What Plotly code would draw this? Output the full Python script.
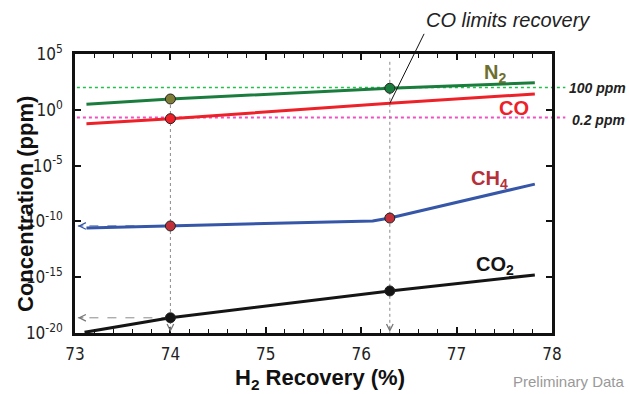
import math
import plotly.graph_objects as go

# ---------------- data ----------------
x_ticks = [73, 74, 75, 76, 77, 78]
y_tick_vals = [1e-20, 1e-15, 1e-10, 1e-5, 1e0, 1e5]
y_tick_text = ["10<sup>-20</sup>", "10<sup>-15</sup>", "10<sup>-10</sup>",
               "10<sup>-5</sup>", "10<sup>0</sup>", "10<sup>5</sup>"]

n2_x = [73.12, 74.0, 76.3, 77.82]
n2_y = [3.1, 9.3, 85, 270]

co_x = [73.12, 74.0, 76.3, 77.82]
co_y = [0.056, 0.16, 3.8, 26]

ch4_x = [73.12, 74.0, 76.12, 76.3, 77.82]
ch4_y = [2.6e-11, 3.9e-11, 1.1e-10, 2.0e-10, 2.2e-7]

co2_x = [73.1, 74.0, 76.3, 77.82]
co2_y = [1.15e-20, 2.3e-19, 5.9e-17, 1.6e-15]

limit_n2 = 100    # ppm
limit_co = 0.2    # ppm
op_points = [74.0, 76.3]   # operating recoveries marked

# ---------------- styling ----------------
C_N2, C_N2_LBL, C_N2_M0 = "#1b7d3d", "#6e6e2e", "#7d7d35"
C_CO = "#ee2028"
C_CH4, C_CH4_LBL, C_CH4_M = "#3656a8", "#b5303a", "#c0303a"
C_CO2 = "#151515"
NARROW = "Liberation Sans Narrow, DejaVu Sans Condensed, Arial Narrow, Liberation Sans, sans-serif"
SANS = "Liberation Sans, Arial, sans-serif"

W, H = 629, 394
L, R, T, B = 75, 552, 54, 333


def px(xp):
    return (xp - L) / (R - L)


def py(yp):
    return (B - yp) / (B - T)


def val_at(xs, ys, xv):
    return ys[xs.index(xv)]


fig = go.Figure()

# vertical guide lines at operating points
fig.add_trace(go.Scatter(x=[op_points[0], op_points[0]], y=[val_at(n2_x, n2_y, op_points[0]), 1.05e-20],
                         mode="lines", line=dict(color="#8a8a8a", width=1, dash="dot"), hoverinfo="skip"))
fig.add_trace(go.Scatter(x=[op_points[1], op_points[1]], y=[2e4, 1.05e-20],
                         mode="lines", line=dict(color="#8a8a8a", width=1, dash="dot"), hoverinfo="skip"))
# horizontal guides to y axis
fig.add_trace(go.Scatter(x=[op_points[0], 73.03], y=[val_at(ch4_x, ch4_y, op_points[0])] * 2,
                         mode="lines", line=dict(color=C_CH4, width=1, dash="dash"), hoverinfo="skip"))
fig.add_trace(go.Scatter(x=[op_points[0], 73.03], y=[val_at(co2_x, co2_y, op_points[0])] * 2,
                         mode="lines", line=dict(color="#8a8a8a", width=1, dash="dash"), hoverinfo="skip"))

# series lines
for xs, ys, col in [(n2_x, n2_y, C_N2), (co_x, co_y, C_CO), (ch4_x, ch4_y, C_CH4), (co2_x, co2_y, C_CO2)]:
    fig.add_trace(go.Scatter(x=xs, y=ys, mode="lines", line=dict(color=col, width=3), hoverinfo="skip"))

# markers
mk = []
mk.append((op_points[0], val_at(n2_x, n2_y, op_points[0]), C_N2_M0))
mk.append((op_points[1], val_at(n2_x, n2_y, op_points[1]), C_N2))
mk.append((op_points[0], val_at(co_x, co_y, op_points[0]), C_CO))
mk.append((op_points[0], val_at(ch4_x, ch4_y, op_points[0]), C_CH4_M))
mk.append((op_points[1], val_at(ch4_x, ch4_y, op_points[1]), C_CH4_M))
mk.append((op_points[0], val_at(co2_x, co2_y, op_points[0]), C_CO2))
mk.append((op_points[1], val_at(co2_x, co2_y, op_points[1]), C_CO2))
fig.add_trace(go.Scatter(x=[m[0] for m in mk], y=[m[1] for m in mk], mode="markers",
                         marker=dict(size=10, color=[m[2] for m in mk], line=dict(color="#222", width=1)),
                         hoverinfo="skip"))

# limit lines (extend slightly beyond the plot to the labels)
for lim, col, wd in [(limit_n2, "#22c04a", 1.3), (limit_co, "#f050c0", 2)]:
    fig.add_shape(type="line", xref="paper", yref="y", x0=0.004, x1=1.028,
                  y0=lim, y1=lim, layer="below",
                  line=dict(color=col, width=wd, dash="dot"))

ann = []
# arrowheads
ann.append(dict(x=op_points[0], y=-19.92, xref="x", yref="y", ax=0, ay=-7, showarrow=True, text="",
                arrowhead=5, arrowsize=1.3, arrowwidth=1, arrowcolor="#777"))
ann.append(dict(x=op_points[1], y=-19.92, xref="x", yref="y", ax=0, ay=-7, showarrow=True, text="",
                arrowhead=5, arrowsize=1.3, arrowwidth=1, arrowcolor="#777"))
ann.append(dict(x=73.03, y=math.log10(val_at(ch4_x, ch4_y, op_points[0])), xref="x", yref="y", ax=7, ay=0,
                showarrow=True, text="", arrowhead=5, arrowsize=1.3, arrowwidth=1, arrowcolor=C_CH4))
ann.append(dict(x=73.03, y=math.log10(val_at(co2_x, co2_y, op_points[0])), xref="x", yref="y", ax=7, ay=0,
                showarrow=True, text="", arrowhead=5, arrowsize=1.3, arrowwidth=1, arrowcolor="#777"))
# "CO limits recovery" pointer
ann.append(dict(x=op_points[1], y=math.log10(val_at(co_x, co_y, op_points[1])), xref="x", yref="y",
                ax=35, ay=-71, showarrow=True, text="", arrowhead=0, arrowwidth=1, arrowcolor="#111"))


def label(text, xp, yp, size, color, family=SANS, xanchor="center", angle=0):
    ann.append(dict(text=text, x=px(xp), y=py(yp), xref="paper", yref="paper", showarrow=False,
                    xanchor=xanchor, yanchor="middle", textangle=angle,
                    font=dict(size=size, color=color, family=family)))


label("<b>N<sub>2</sub></b>", 495, 73, 20, C_N2_LBL)
label("<b>CO</b>", 514, 108, 20, C_CO)
label("<b>CH<sub>4</sub></b>", 489, 179, 20, C_CH4_LBL)
label("<b>CO<sub>2</sub></b>", 495, 265, 20, C_CO2)
label("<b><i>100 ppm</i></b>", 567, 88, 14, "#222", xanchor="left")
label("<b><i>0.2 ppm</i></b>", 570, 120, 14, "#222", xanchor="left")
label("<i>CO limits recovery</i>", 508, 20, 20, "#222")
label("Preliminary Data", 627, 381, 15, "#999", xanchor="right")
label("<b>H<sub>2</sub> Recovery (%)</b>", 320, 379, 22, "#111")
label("<b>Concentration (ppm)</b>", 25, 204, 22, "#111", angle=-90)

fig.update_layout(annotations=ann)

fig.update_xaxes(range=[73, 78], tickvals=x_ticks, ticktext=[str(v) for v in x_ticks],
                 ticks="inside", ticklen=6, tickwidth=1.5, tickcolor="#111",
                 showline=True, linewidth=2.5, linecolor="#111", mirror="allticks",
                 minor=dict(tick0=73, dtick=0.2, ticks="inside", ticklen=4, tickwidth=1, tickcolor="#111"),
                 showgrid=False, zeroline=False, ticklabelstandoff=4,
                 tickfont=dict(family=NARROW, size=17, color="#222"))
fig.update_yaxes(type="log", range=[-20, 5], tickvals=y_tick_vals, ticktext=y_tick_text,
                 ticks="inside", ticklen=6, tickwidth=1.5, tickcolor="#111",
                 showline=True, linewidth=2.5, linecolor="#111", mirror="allticks",
                 showgrid=False, zeroline=False, ticklabelstandoff=6,
                 tickfont=dict(family=NARROW, size=17, color="#222"))

fig.update_layout(width=W, height=H, margin=dict(l=L, r=W - R, t=T, b=H - B, autoexpand=False),
                  paper_bgcolor="white", plot_bgcolor="white", showlegend=False,
                  font=dict(family=SANS))

fig.write_html("out.html", config={"displayModeBar": False},
               post_script="document.body.style.margin='0px';")
